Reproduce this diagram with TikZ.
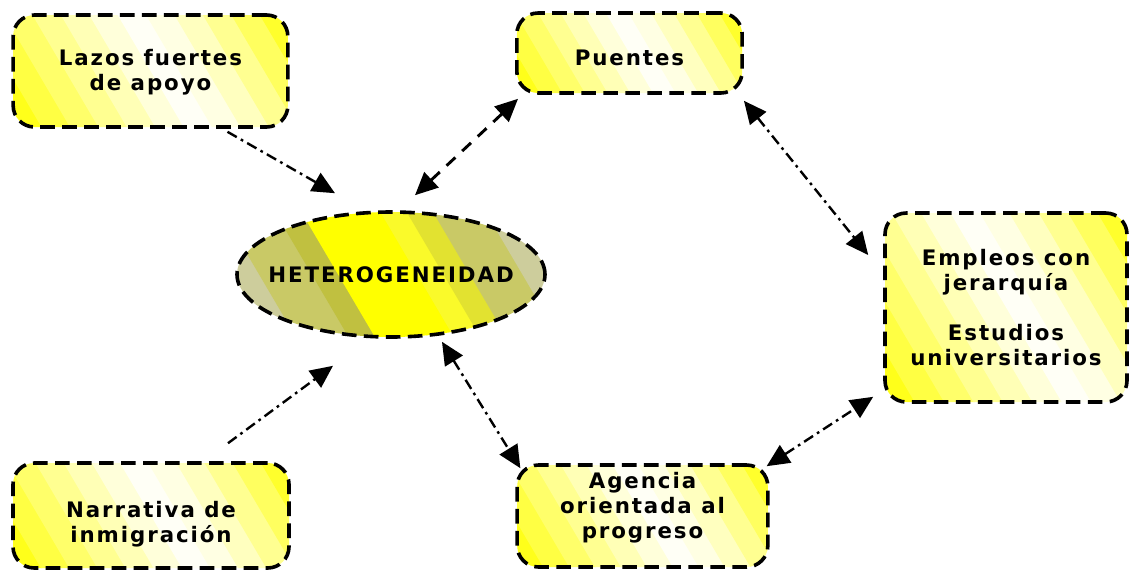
\documentclass[tikz,border=0pt]{standalone}
\usepackage{fontspec}
\setmainfont{DejaVu Sans}[LetterSpace=9]
\usetikzlibrary{arrows.meta,calc,shapes.geometric}
\definecolor{Y}{HTML}{FFFF1A}
\definecolor{ep}{HTML}{CDCD9C}
\definecolor{eo}{HTML}{C9C966}
\definecolor{ed}{HTML}{C0C040}
\definecolor{ey}{HTML}{FFFF00}
\definecolor{eyb}{HTML}{FAFA2A}
\definecolor{eyo}{HTML}{E2E230}
\newcommand{\boxpal}{Y, Y!82!white, Y!65!white, Y!48!white, Y!32!white, Y!16!white, Y!4!white, Y!12!white, Y!28!white, Y!48!white, Y!70!white, Y!92!white}
\newcommand{\ellpal}{ep, eo, eo, ed, ey, ey, ey, eyb, eyo, eo, eo, ep}
\tikzset{
  stripefill/.style n args={3}{path picture={
    \foreach \c [count=\i] in #3 {
      \pgfmathsetmacro\sa{#1+(\i-1)*(#2-#1)/12}
      \pgfmathsetmacro\sb{\sa+(#2-#1)/12+1}
      \fill[\c, sharp corners, solid] ($(path picture bounding box.north west)+(\sa,0)$)
        -- ($(path picture bounding box.north west)+(\sb,0)$)
        -- ($(path picture bounding box.north west)+(\sb+160,272)$)
        -- ($(path picture bounding box.north west)+(\sa+160,272)$) -- cycle;
    }}},
  lblfont/.style={font=\bfseries\fontsize{16}{18.75}\selectfont},
  cbox/.style={draw=black, line width=2.7pt, dash pattern=on 11pt off 5.5pt,
    rounded corners=16pt, align=center, lblfont, inner sep=0pt},
  cell/.style={ellipse, draw=black, line width=2.7pt, dash pattern=on 11pt off 5.5pt,
    align=center, lblfont, inner sep=0pt},
  ah/.tip={Triangle[length=17pt,width=15.5pt]},
  conn/.style={line width=1.8pt, dash pattern=on 8pt off 3.5pt on 2pt off 3.5pt},
  dconn/.style={line width=2.2pt, dash pattern=on 9pt off 7pt},
}
\begin{document}
\begin{tikzpicture}[x=0.75pt,y=-0.75pt]
\useasboundingbox (0,0) rectangle (1131,572);
\fill[white] (0,0) rectangle (1131,572);

\node[cbox, minimum width=206pt, minimum height=84pt, stripefill={-66}{275}{\boxpal}]
  (lazos) at (150.5,71) {\rule{0pt}{14pt}Lazos fuertes\\de apoyo};
\node[cbox, minimum width=169pt, minimum height=60pt, stripefill={-47}{225}{\boxpal}]
  (puentes) at (629.5,53) {\rule{0pt}{18.5pt}Puentes};
\node[cbox, minimum width=181.5pt, minimum height=141.75pt, stripefill={-111}{242}{\boxpal}]
  (empleos) at (1006,307.5) {Empleos con\\jerarquía\\[18.75pt]Estudios\\universitarios};
\node[cbox, minimum width=188pt, minimum height=76.5pt, stripefill={-60}{251}{\boxpal}]
  (agencia) at (642.5,516) {Agencia\\orientada al\\progreso\rule[-15.5pt]{0pt}{0pt}};
\node[cbox, minimum width=207pt, minimum height=78.75pt, stripefill={-62}{276}{\boxpal}]
  (narrativa) at (151,515.5) {\rule{0pt}{24.9pt}Narrativa de\\inmigración};
\node[cell, minimum width=231pt, minimum height=93.75pt, stripefill={-41}{275}{\ellpal}]
  (het) at (391,274.5) {\makebox[0pt]{HETEROGENEIDAD}};

\draw[conn, -ah] ($(lazos.south)+(77,3)$) -- ($(het.north)+(-56,-17)$);
\draw[conn, -ah] ($(narrativa.north)+(77,-18)$) -- ($(het.south)+(-58,27)$);
\draw[dconn, ah-ah] ($(het.north)+(24,-15)$) -- ($(puentes.south west)+(3,4)$);
\draw[conn, ah-ah] ($(puentes.south east)+(0,6)$) -- ($(empleos.west)+(-15,-52.5)$);
\draw[conn, ah-ah] ($(het.south)+(51,3)$) -- ($(agencia.north west)+(5,5)$);
\draw[conn, ah-ah] ($(agencia.north east)+(-3,3)$) -- ($(empleos.south west)+(-10,-7)$);
\end{tikzpicture}
\end{document}
